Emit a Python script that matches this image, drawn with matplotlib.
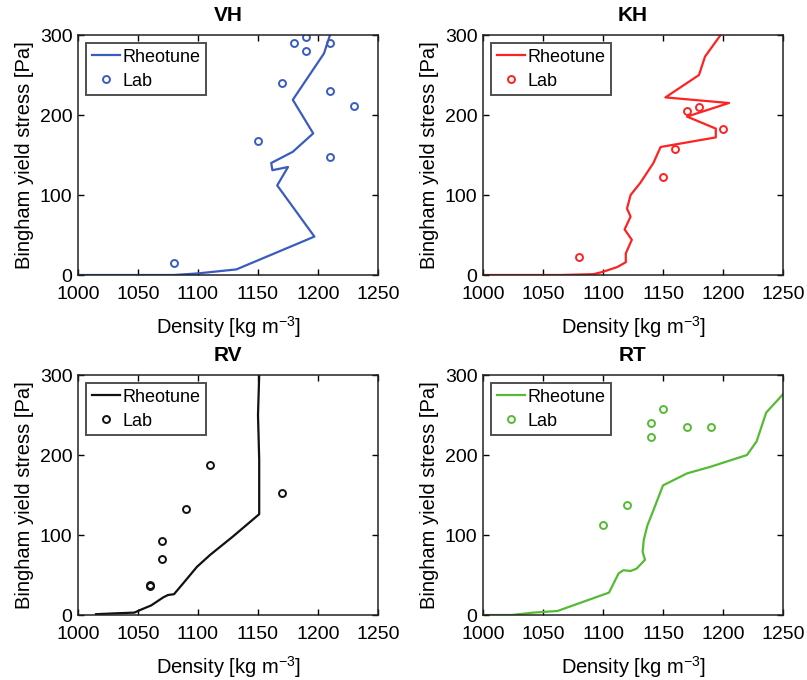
import matplotlib
matplotlib.use("Agg")
import matplotlib.pyplot as plt

plt.rcParams["font.family"] = ["Liberation Sans", "DejaVu Sans"]
plt.rcParams["mathtext.fontset"] = "custom"
plt.rcParams["mathtext.rm"] = "Liberation Sans"

# Rheotune model curves (density kg/m3, Bingham yield stress Pa)
vh_model_density = [1000, 1080, 1100, 1132, 1197, 1166, 1175, 1162, 1161, 1179, 1196, 1179, 1205, 1210]
vh_model_stress = [0, 0, 2, 7, 48, 112, 135, 131, 140, 154, 177, 219, 277, 300]
kh_model_density = [1000, 1064, 1092, 1100, 1112, 1119, 1119, 1124, 1118, 1123, 1120, 1123, 1131,
                    1142, 1148, 1194, 1194, 1170, 1205, 1152, 1180, 1185, 1198]
kh_model_stress = [0, 0, 1, 4, 10, 16, 27, 44, 57, 73, 83, 100, 115,
                   140, 160, 172, 183, 198, 215, 222, 250, 273, 300]
rv_model_density = [1015, 1030, 1047, 1053, 1061, 1071, 1075, 1080, 1089, 1099, 1110, 1129, 1151,
                    1151, 1150, 1151]
rv_model_stress = [1, 2, 3, 7, 12, 22, 25, 26, 42, 60, 75, 98, 126, 194, 250, 300]
rt_model_density = [1000, 1024, 1042, 1062, 1105, 1113, 1117, 1123, 1128, 1135, 1133, 1134, 1137,
                    1141, 1150, 1170, 1189, 1220, 1228, 1236, 1250]
rt_model_stress = [0, 0, 3, 5, 28, 52, 56, 55, 58, 69, 79, 94, 112,
                   127, 162, 177, 185, 200, 217, 253, 276]

# Laboratory measurements
vh_lab_density = [1080, 1150, 1170, 1180, 1190, 1190, 1210, 1210, 1230, 1210]
vh_lab_stress = [15, 167, 240, 290, 298, 280, 290, 230, 211, 147]
kh_lab_density = [1080, 1150, 1160, 1170, 1180, 1200]
kh_lab_stress = [22, 122, 157, 205, 210, 182]
rv_lab_density = [1060, 1060, 1070, 1070, 1090, 1110, 1170]
rv_lab_stress = [37, 36, 70, 93, 132, 187, 152]
rt_lab_density = [1100, 1120, 1140, 1140, 1150, 1170, 1190]
rt_lab_stress = [112, 138, 222, 240, 258, 235, 235]

titles = ["VH", "KH", "RV", "RT"]
colors = ["#3a5cc0", "#ff2222", "#111111", "#55bb33"]
x_ticks = [1000, 1050, 1100, 1150, 1200, 1250]
y_ticks = [0, 100, 200, 300]

panels = [
    (vh_model_density, vh_model_stress, vh_lab_density, vh_lab_stress),
    (kh_model_density, kh_model_stress, kh_lab_density, kh_lab_stress),
    (rv_model_density, rv_model_stress, rv_lab_density, rv_lab_stress),
    (rt_model_density, rt_model_stress, rt_lab_density, rt_lab_stress),
]

W, H = 807, 680
fig = plt.figure(figsize=(W / 100, H / 100), dpi=100)

# axes boxes in pixels: left, top, width, height
boxes = [(78, 35, 300, 240), (483, 35, 300, 240), (78, 375, 300, 240), (483, 375, 300, 240)]

for (mx, my, lx, ly), title, color, (l, t, w, h) in zip(panels, titles, colors, boxes):
    ax = fig.add_axes([l / W, (H - t - h) / H, w / W, h / H])
    ax.plot(mx, my, "-", color=color, lw=1.6, label="Rheotune")
    ax.plot(lx, ly, "o", mfc="none", mec=color, mew=1.4, ms=5, ls="none", label="Lab")
    ax.set_xlim(1000, 1250)
    ax.set_ylim(0, 300)
    ax.set_xticks(x_ticks)
    ax.set_yticks(y_ticks)
    ax.tick_params(direction="in", top=True, right=True, length=4, width=1,
                   labelsize=14)
    ax.tick_params(axis="x", pad=8)
    ax.tick_params(axis="y", pad=4)
    for sp in ax.spines.values():
        sp.set_linewidth(1.1)
        sp.set_color("#222222")
    ax.set_title(title, fontsize=15, fontweight="bold", pad=10)
    ax.set_xlabel(r"Density [kg m$^{-3}$]", fontsize=14.5, labelpad=8)
    ax.set_ylabel("Bingham yield stress [Pa]", fontsize=14.5, labelpad=4)
    leg = ax.legend(loc="upper left", fontsize=13, frameon=True, fancybox=False,
                    edgecolor="#222222", handlelength=1.6, handletextpad=0.1,
                    borderpad=0.3, labelspacing=0.4, borderaxespad=0.45)
    leg.get_frame().set_linewidth(1.4)

fig.savefig("out.png", dpi=100)
